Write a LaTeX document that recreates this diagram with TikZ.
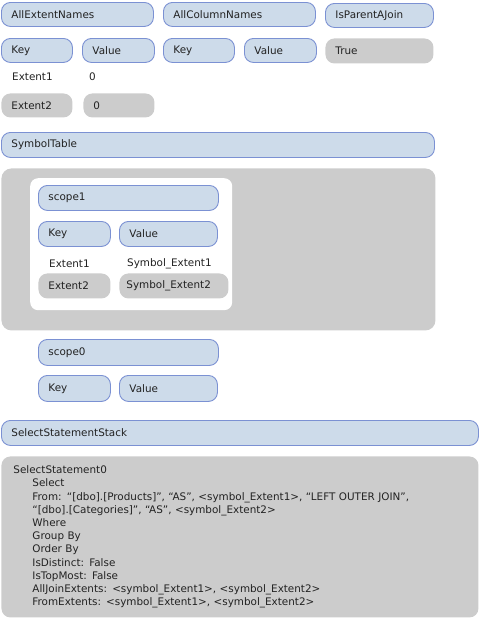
\documentclass[tikz,border=0pt]{standalone}
\usepackage{fontspec}
\setmainfont{DejaVu Sans}
\definecolor{bfill}{HTML}{CDDBEA}
\definecolor{bdraw}{HTML}{7B91D3}
\definecolor{gfill}{HTML}{CCCCCC}
\definecolor{tcol}{HTML}{222222}
\begin{document}
\begin{tikzpicture}[x=1pt,y=-1pt,font=\fontsize{10.4}{13.2}\selectfont,text=tcol,
  bx/.style={rounded corners=9pt, fill=bfill, draw=bdraw, line width=0.9pt, anchor=north west,
     inner xsep=10pt, inner ysep=0pt, minimum height=24pt, align=left},
  gx/.style={bx, fill=gfill, draw=none},
  txt/.style={anchor=west, inner sep=0pt}]
\useasboundingbox (0,0) rectangle (479,622);
% top rows
\node[bx, text width=132pt] (aen) at (1,2) {AllExtentNames};
\node[bx, text width=132pt] (acn) at (163,2) {AllColumnNames};
\node[bx, text width=88pt] (ipj) at (325,3) {IsParentAJoin};
\node[bx, text width=51pt] (k1) at (1,38) {Key};
\node[bx, text width=52pt] (v1) at (82,38) {Value};
\node[bx, text width=51pt] (k2) at (163,38) {Key};
\node[bx, text width=52pt] (v2) at (244,38) {Value};
\node[gx, text width=88pt, minimum height=25pt] (tru) at (325,38) {True};
\node[txt] (e1) at (12,77) {Extent1};
\node[txt] (z1) at (89,77) {0};
\node[gx, text width=51pt] (e2) at (1,93) {Extent2};
\node[gx, text width=51pt] (z2) at (83,93) {0};
\node[bx, text width=413pt, minimum height=25pt] (st) at (1,132) {SymbolTable};
% symbol table content
\node[gx, minimum width=434pt, minimum height=162pt, inner sep=0pt, rounded corners=10pt] (outer) at (1,168) {};
\node[fill=white, rounded corners=8pt, anchor=north west, minimum width=202pt, minimum height=132pt, inner sep=0pt] (inner) at (30,178) {};
\node[bx, text width=160pt, minimum height=25pt] (s1) at (38,185) {scope1};
\node[bx, text width=52pt, minimum height=25pt] (s1k) at (38,221) {Key};
\node[bx, text width=78pt, minimum height=25pt] (s1v) at (119,221) {Value};
\node[txt] (s1e1) at (49,264) {Extent1};
\node[txt] (s1y1) at (127,264) {Symbol\_Extent1};
\node[gx, text width=52pt, minimum height=25pt] (s1e2) at (38,273) {Extent2};
\node[gx, inner xsep=7pt, text width=95pt, minimum height=25pt] (s1y2) at (119,273) {Symbol\_Extent2};
\node[bx, text width=160pt, minimum height=26pt] (s0) at (38,339) {scope0};
\node[bx, text width=52pt, minimum height=26pt] (s0k) at (38,375) {Key};
\node[bx, text width=78pt, minimum height=26pt] (s0v) at (119,375) {Value};
% select statement stack
\node[bx, text width=457pt, minimum height=25pt] (sss) at (1,420) {SelectStatementStack};
\node[gx, inner xsep=12pt, text width=453pt, minimum height=161pt] (ss0) at (1,456) {%
SelectStatement0\\
\hspace*{19pt}Select\\
\hspace*{19pt}From: “[dbo].[Products]”, “AS”, <symbol\_Extent1>, “LEFT OUTER JOIN”,\\
\hspace*{19pt}“[dbo].[Categories]”, “AS”, <symbol\_Extent2>\\
\hspace*{19pt}Where\\
\hspace*{19pt}Group By\\
\hspace*{19pt}Order By\\
\hspace*{19pt}IsDistinct: False\\
\hspace*{19pt}IsTopMost: False\\
\hspace*{19pt}AllJoinExtents: <symbol\_Extent1>, <symbol\_Extent2>\\
\hspace*{19pt}FromExtents: <symbol\_Extent1>, <symbol\_Extent2>};
\end{tikzpicture}
\end{document}
